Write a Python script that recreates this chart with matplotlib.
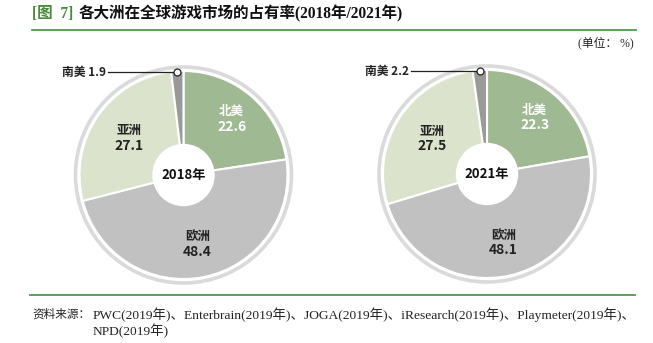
import numpy as np
import matplotlib
matplotlib.use("Agg")
import matplotlib.pyplot as plt
from matplotlib.patches import Circle

plt.rcParams['font.family'] = ['Noto Sans CJK SC', 'DejaVu Sans']

# 各大洲占有率 (%)
regions = ['北美', '欧洲', '亚洲', '南美']
share_2018 = [22.6, 48.4, 27.1, 1.9]
share_2021 = [22.3, 48.1, 27.5, 2.2]
years = ['2018年', '2021年']

colors = ['#9fb992', '#c1c1c1', '#dbe3cd', '#9a9a9a']
label_colors = ['white', '#222222', '#222222']
label_r = [0.71, 0.68, 0.63]

W, H = 653, 343
fig = plt.figure(figsize=(W / 100, H / 100), dpi=100)
ax = fig.add_axes([0, 0, 1, 1])

serif = ['Liberation Serif', 'Noto Sans CJK SC']
green = '#4f9a4f'

# 标题
ax.text(32, H - 14, '[图  7]', color='#4a8a3c', fontsize=11.2, fontweight='bold',
        family=serif, va='center', ha='left')
ax.text(79, H - 14, '各大洲在全球游戏市场的占有率(2018年/2021年)', color='#111111',
        fontsize=11.2, fontweight='bold', family=serif, va='center', ha='left')
ax.plot([32, 636], [H - 30, H - 30], color=green, lw=1.3)
ax.text(634, H - 43, '(单位： %)', fontsize=8.5, family=serif, ha='right', va='center',
        color='#222222')

R = 104
centers = [(183.5, H - 175), (487, H - 174)]

for values, year, (cx, cy) in zip([share_2018, share_2021], years, centers):
    wedges, _ = ax.pie(values, colors=colors, startangle=90, counterclock=False,
                       center=(cx, cy), radius=R,
                       wedgeprops=dict(edgecolor='white', linewidth=1.5))
    ax.add_patch(Circle((cx, cy), R + 4, fill=False, edgecolor='#dadada', lw=2.6))
    ax.add_patch(Circle((cx, cy), R * 0.30, facecolor='white', edgecolor='none', zorder=3))
    ax.text(cx, cy, year, ha='center', va='center', fontsize=9.5, fontweight='bold',
            color='#111111', zorder=4)

    for i, w in enumerate(wedges[:3]):
        ang = np.deg2rad((w.theta1 + w.theta2) / 2)
        x = cx + R * label_r[i] * np.cos(ang)
        y = cy + R * label_r[i] * np.sin(ang)
        ax.text(x, y + 7.5, regions[i], ha='center', va='center', fontsize=9,
                fontweight='bold', color=label_colors[i])
        ax.text(x, y - 7.5, f'{values[i]:.1f}', ha='center', va='center', fontsize=10,
                fontweight='bold', color=label_colors[i])

    # 南美 引出线
    w = wedges[3]
    ang = np.deg2rad((w.theta1 + w.theta2) / 2)
    px = cx + (R - 1) * np.cos(ang)
    py = cy + (R - 1) * np.sin(ang)
    ax.plot([cx - 76, px], [py, py], color='#222222', lw=0.9, zorder=5)
    ax.plot(px, py, 'o', ms=5, mfc='white', mec='#222222', mew=0.9, zorder=6)
    ax.text(cx - 78, py, f'{regions[3]} {values[3]:.1f}', ha='right', va='center',
            fontsize=8.5, fontweight='bold', color='#222222')

# 资料来源
ax.plot([30, 635], [H - 295, H - 295], color=green, lw=1.3)
ax.text(32, H - 315, '资料来源：', fontsize=8.4, family=serif, ha='left', va='center',
        color='#222222')
ax.text(93, H - 315,
        'PWC(2019年)、Enterbrain(2019年)、JOGA(2019年)、iResearch(2019年)、Playmeter(2019年)、',
        fontsize=9.7, family=serif, ha='left', va='center', color='#222222')
ax.text(93, H - 331, 'NPD(2019年)', fontsize=9.7, family=serif, ha='left', va='center',
        color='#222222')

ax.set_xlim(0, W)
ax.set_ylim(0, H)
ax.set_aspect('auto')
ax.axis('off')

fig.savefig('out.png', dpi=100, facecolor='white')
